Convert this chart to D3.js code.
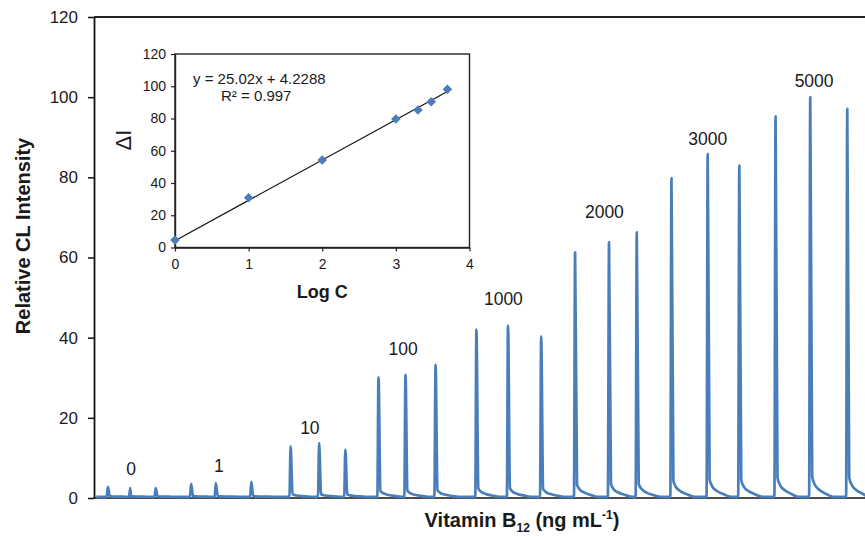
<!DOCTYPE html>
<html>
<head>
<meta charset="utf-8">
<script src="https://cdn.jsdelivr.net/npm/d3@7"></script>
<style>
  body { margin: 0; background: #fff; }
  text { font-family: "Liberation Sans", Arial, sans-serif; }
</style>
</head>
<body>
<script>
// main trace: peak positions (run time, arbitrary units) and heights
var peakTime   = [1.8, 4.7, 8.0, 12.6, 15.8, 20.4, 25.5, 29.2, 32.6, 36.9, 40.4, 44.3,
                  49.6, 53.7, 58.0, 62.4, 66.8, 70.4, 74.9, 79.6, 83.7, 88.4, 92.9, 97.7];
var peakHeight = [2.5, 2.2, 2.2, 3.2, 3.4, 3.7, 12.6, 13.4, 11.8, 29.8, 30.5, 33.0,
                  41.7, 42.7, 40.0, 61.0, 63.5, 66.0, 79.5, 85.5, 82.6, 94.9, 99.7, 96.8];
var baseLevel = 0.3;
// peak shape: offset from the peak and fraction of its height
var shapeDt   = [-0.15, 0, 0.25, 0.6, 1.2, 2.0, 3.0];
var shapeFrac = [0, 1, 0.05, 0.03, 0.017, 0.008, 0];

// concentration labels above the groups
var concText  = ["0", "1", "10", "100", "1000", "2000", "3000", "5000"];
var concTime  = [4.8, 16.2, 28.0, 40.1, 53.1, 66.2, 79.6, 93.4];
var concLevel = [5.7, 6.5, 16.0, 35.7, 48.1, 69.8, 88.0, 102.5];

var mainTicks = [0, 20, 40, 60, 80, 100, 120];

// inset calibration
var logC  = [0, 1, 2, 3, 3.3, 3.48, 3.7];
var dI    = [4.6, 30.9, 54.3, 79.7, 85.3, 90.4, 98.1];
var slope = 25.02, intercept = 4.2288;
var fitRange = [0, 3.7];
var insetXTicks = [0, 1, 2, 3, 4];
var insetYTicks = [0, 20, 40, 60, 80, 100, 120];

var blue = "#4a7ebb";

var svg = d3.select("body").append("svg")
    .attr("width", 865)
    .attr("height", 537);

var x = d3.scaleLinear().domain([0, 100]).range([94, 865]),
    y = d3.scaleLinear().domain([0, 120]).range([498, 17]);

// frame
svg.append("line").attr("x1", 94).attr("x2", 865).attr("y1", y(120)).attr("y2", y(120))
    .attr("stroke", "#222").attr("stroke-width", 1.8);
svg.append("line").attr("x1", 94).attr("x2", 865).attr("y1", y(0)).attr("y2", y(0))
    .attr("stroke", "#111").attr("stroke-width", 1.5);

var yAxis = svg.append("g").attr("transform", "translate(94,0)")
    .call(d3.axisLeft(y).tickValues(mainTicks).tickSize(6).tickSizeOuter(0).tickPadding(10));
yAxis.select(".domain").attr("stroke", "#111").attr("stroke-width", 1.8);
yAxis.selectAll(".tick line").attr("stroke", "#111").attr("stroke-width", 1.5);
yAxis.selectAll("text").attr("font-size", 17).attr("fill", "#1a1a1a")
    .style("font-family", "Liberation Sans, Arial, sans-serif");

// trace points
var pts = [[0.3, baseLevel]];
peakTime.forEach(function(t, i) {
    shapeDt.forEach(function(dt, k) {
        pts.push([t + dt, baseLevel + peakHeight[i] * shapeFrac[k]]);
    });
});
pts.push([100.5, baseLevel]);
pts.sort(function(a, b) { return a[0] - b[0]; });

var line = d3.line()
    .x(function(d) { return x(d[0]); })
    .y(function(d) { return y(d[1]); })
    .curve(d3.curveMonotoneX);

svg.append("path").datum(pts)
    .attr("d", line)
    .attr("fill", "none")
    .attr("stroke", blue)
    .attr("stroke-width", 2.7)
    .attr("stroke-linejoin", "round");

svg.selectAll(".conc").data(concText).enter().append("text")
    .attr("class", "conc")
    .attr("x", function(d, i) { return x(concTime[i]); })
    .attr("y", function(d, i) { return y(concLevel[i]); })
    .attr("text-anchor", "middle")
    .attr("font-size", 17.5)
    .attr("fill", "#1a1a1a")
    .text(function(d) { return d; });

// axis titles
svg.append("text")
    .attr("transform", "translate(30,236) rotate(-90)")
    .attr("text-anchor", "middle")
    .attr("font-size", 20)
    .attr("font-weight", "bold")
    .attr("fill", "#1a1a1a")
    .text("Relative CL Intensity");

var xt = svg.append("text")
    .attr("x", 522).attr("y", 527)
    .attr("text-anchor", "middle")
    .attr("font-size", 20)
    .attr("font-weight", "bold")
    .attr("fill", "#1a1a1a");
xt.append("tspan").text("Vitamin B");
xt.append("tspan").attr("font-size", 12).attr("dy", 5).text("12");
xt.append("tspan").attr("dy", -5).text(" (ng mL");
xt.append("tspan").attr("font-size", 12).attr("dy", -8).text("-1");
xt.append("tspan").attr("dy", 8).text(")");

// inset
var xi = d3.scaleLinear().domain([0, 4]).range([175, 469.5]),
    yi = d3.scaleLinear().domain([0, 120]).range([247.5, 54]);

svg.append("rect")
    .attr("x", xi(0)).attr("y", yi(120))
    .attr("width", xi(4) - xi(0)).attr("height", yi(0) - yi(120))
    .attr("fill", "#fff").attr("stroke", "#222").attr("stroke-width", 1.4);

var yiAxis = svg.append("g").attr("transform", "translate(" + xi(0) + ",0)")
    .call(d3.axisLeft(yi).tickValues(insetYTicks).tickSize(4).tickSizeOuter(0).tickPadding(5));
var xiAxis = svg.append("g").attr("transform", "translate(0," + yi(0) + ")")
    .call(d3.axisBottom(xi).tickValues(insetXTicks).tickFormat(d3.format("d"))
        .tickSize(4).tickSizeOuter(0).tickPadding(8));
[yiAxis, xiAxis].forEach(function(a) {
    a.select(".domain").attr("stroke", "#222").attr("stroke-width", 1.4);
    a.selectAll(".tick line").attr("stroke", "#222").attr("stroke-width", 1.2);
    a.selectAll("text").attr("font-size", 14).attr("fill", "#1a1a1a")
        .style("font-family", "Liberation Sans, Arial, sans-serif");
});

svg.append("line")
    .attr("x1", xi(fitRange[0])).attr("y1", yi(slope * fitRange[0] + intercept))
    .attr("x2", xi(fitRange[1])).attr("y2", yi(slope * fitRange[1] + intercept))
    .attr("stroke", "#111").attr("stroke-width", 1.2);

svg.selectAll(".pt").data(logC).enter().append("path")
    .attr("class", "pt")
    .attr("transform", function(d, i) {
        return "translate(" + xi(d) + "," + yi(dI[i]) + ") rotate(45)";
    })
    .attr("d", d3.symbol().type(d3.symbolSquare).size(46))
    .attr("fill", blue);

svg.append("text")
    .attr("x", 193).attr("y", 84)
    .attr("font-size", 15).attr("fill", "#1a1a1a")
    .text("y = 25.02x + 4.2288");
svg.append("text")
    .attr("x", 221).attr("y", 101)
    .attr("font-size", 15).attr("fill", "#1a1a1a")
    .text("R² = 0.997");

svg.append("text")
    .attr("x", xi(2)).attr("y", 298)
    .attr("text-anchor", "middle")
    .attr("font-size", 18).attr("font-weight", "bold").attr("fill", "#1a1a1a")
    .text("Log C");

svg.append("text")
    .attr("transform", "translate(131,140) rotate(-90)")
    .attr("text-anchor", "middle")
    .attr("font-size", 22).attr("fill", "#1a1a1a")
    .text("\u0394I");
</script>
</body>
</html>
